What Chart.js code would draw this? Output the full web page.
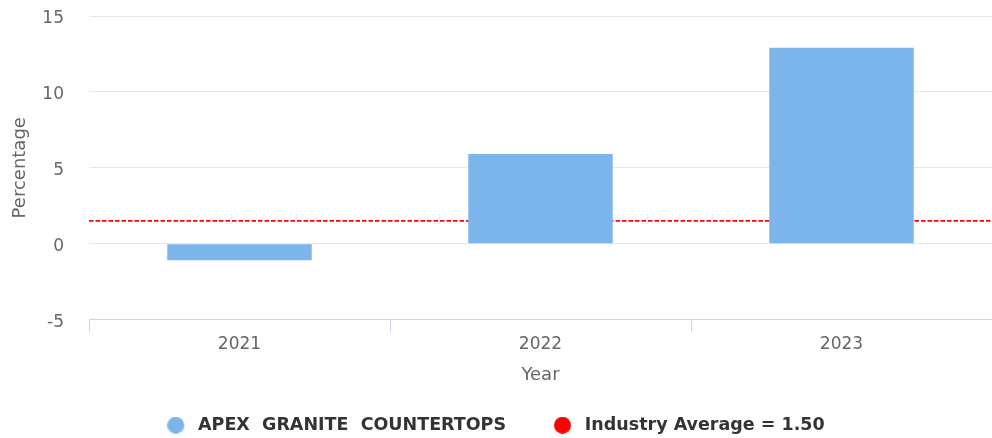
<!DOCTYPE html>
<html>
<head>
<meta charset="utf-8">
<script src="https://cdn.jsdelivr.net/npm/chart.js@4/dist/chart.umd.min.js"></script>
<style>
html,body{margin:0;padding:0;background:#fff;}
#wrap{width:992px;height:438px;position:relative;}
</style>
</head>
<body>
<div id="wrap"><canvas id="c" width="992" height="438"></canvas></div>
<script>
const categories = ["2021", "2022", "2023"];
const companyValues = [-1.1, 5.9, 12.9];
const industryAverage = 1.5;
const seriesName = "APEX  GRANITE  COUNTERTOPS";
const averageLabel = "Industry Average = 1.50";
const yTicks = [-5, 0, 5, 10, 15];

const seriesColors = ['#7cb5ec', '#ff0000'];

function markerFor(color) {
  const c = document.createElement('canvas');
  c.width = 22; c.height = 17;
  const g = c.getContext('2d');
  g.fillStyle = color;
  g.beginPath();
  g.arc(8.5, 8.5, 8.5, 0, Math.PI * 2);
  g.fill();
  return c;
}
const markers = seriesColors.map(markerFor);

const ctx = document.getElementById('c').getContext('2d');
new Chart(ctx, {
  data: {
    labels: categories,
    datasets: [
      {
        type: 'bar',
        label: seriesName,
        data: companyValues,
        backgroundColor: seriesColors[0],
        borderWidth: 0,
        grouped: false,
        categoryPercentage: 1,
        barPercentage: 0.48,
        order: 1,
        xAxisID: 'x',
        yAxisID: 'y'
      },
      {
        type: 'line',
        label: averageLabel,
        data: [{x: 0, y: industryAverage}, {x: 1, y: industryAverage}],
        borderColor: seriesColors[1],
        backgroundColor: seriesColors[1],
        borderWidth: 1.6,
        borderDash: [4.5, 2],
        pointRadius: 0,
        fill: false,
        order: 2,
        xAxisID: 'x2',
        yAxisID: 'y'
      }
    ]
  },
  options: {
    responsive: false,
    animation: false,
    layout: {padding: {top: 16, right: 0, left: 0, bottom: -6}},
    plugins: {
      tooltip: {enabled: false},
      legend: {
        position: 'bottom',
        labels: {
          usePointStyle: true,
          pointStyleWidth: 22,
          boxHeight: 17,
          padding: 48,
          color: '#333333',
          font: {family: 'DejaVu Sans', size: 17.5, weight: 'bold'},
          generateLabels: (chart) => chart.data.datasets.map((ds, i) => ({
            text: ds.label,
            fillStyle: seriesColors[i],
            strokeStyle: seriesColors[i],
            lineWidth: 0,
            pointStyle: markers[i],
            hidden: false,
            datasetIndex: i,
            fontColor: '#333333'
          }))
        }
      }
    },
    scales: {
      x: {
        type: 'category',
        offset: true,
        afterFit: (scale) => { scale.height = 49; },
        grid: {
          offset: true,
          drawOnChartArea: false,
          drawTicks: true,
          tickLength: 13,
          color: '#ccd6eb'
        },
        border: {display: true, color: '#ccd6eb', width: 1},
        ticks: {color: '#666666', font: {family: 'DejaVu Sans', size: 17}, padding: 2},
        title: {display: true, text: 'Year', color: '#666666', font: {family: 'DejaVu Sans', size: 18}, padding: {top: 0, bottom: -18}}
      },
      x2: {
        type: 'linear',
        display: false,
        min: 0,
        max: 1
      },
      y: {
        type: 'linear',
        min: -5,
        max: 15,
        afterBuildTicks: (scale) => { scale.ticks = yTicks.map(v => ({value: v})); },
        afterFit: (scale) => { scale.width = 89; },
        grid: {
          color: (c) => (c.tick && c.tick.value === -5) ? 'rgba(0,0,0,0)' : '#e6e6e6',
          tickColor: 'rgba(0,0,0,0)',
          drawTicks: true,
          tickLength: 25,
          lineWidth: 1
        },
        border: {display: false},
        ticks: {color: '#666666', font: {family: 'DejaVu Sans', size: 17}, padding: 0, labelOffset: 3},
        title: {display: true, text: 'Percentage', color: '#666666', font: {family: 'DejaVu Sans', size: 18}, padding: {top: 10, bottom: 0}}
      }
    }
  }
});
</script>
</body>
</html>
